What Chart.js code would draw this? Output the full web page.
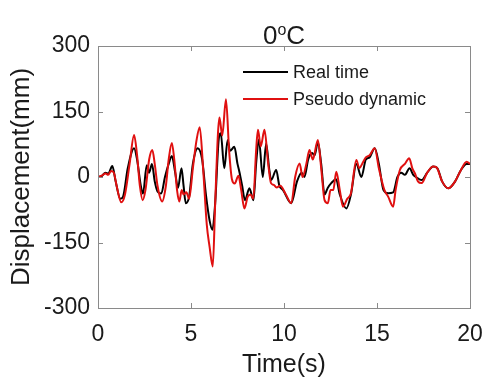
<!DOCTYPE html>
<html>
<head>
<meta charset="utf-8">
<script src="https://cdn.jsdelivr.net/npm/chart.js@4/dist/chart.umd.min.js"></script>
<style>
html,body{margin:0;padding:0;background:#fff;}
#wrap{width:483px;height:380px;}
</style>
</head>
<body>
<div id="wrap"><canvas id="c" width="483" height="380"></canvas></div>
<script>
const seriesLabels = ["Real time", "Pseudo dynamic"];
const xTickValues = [0, 5, 10, 15, 20];
const yTickValues = [-300, -150, 0, 150, 300];

const realTime = [0,0.2,0.4,0.55,0.77,0.95,1.2,1.35,1.6,1.94,2.1,2.3,2.42,2.62,2.75,2.9,3.05,3.2,3.4,3.6,3.8,3.97,4.15,4.3,4.49,4.6,4.72,4.9,5.1,5.36,5.6,5.8,6.0,6.15,6.3,6.5,6.6,6.79,6.97,7.1,7.33,7.5,7.6,7.75,7.9,8.14,8.36,8.5,8.65,8.86,9.04,9.2,9.31,9.58,9.75,9.95,10.39,10.7,10.95,11.1,11.3,11.5,11.65,11.82,12.0,12.18,12.35,12.54,12.8,13.0,13.35,13.6,13.89,14.16,14.4,14.6,14.88,15.1,15.35,15.6,15.87,16.1,16.3,16.5,16.75,16.95,17.1,17.4,17.7,18.02,18.25,18.5,18.83,19.2,19.5,19.82,20];
const realDisp = [0,2,10,8,25,-10,-50,-45,20,66,40,-20,-38,27,10,30,-10,-33,-38,0,30,48,10,-25,20,-20,-60,-45,30,66,40,-40,-100,-121,-60,90,100,20,85,60,69,30,12,-20,-53,-26,-53,30,86,0,77,20,-7,16,-20,-30,-60,-10,10,0,40,55,50,80,30,-40,-25,-14,-5,-40,-72,-40,30,0,40,45,66,30,-30,-37,-35,0,10,5,20,5,0,-7,10,24,20,-10,-26,-10,15,30,30];

const pseudoTime = [0,0.2,0.4,0.55,0.7,0.85,1.0,1.25,1.45,1.7,1.94,2.1,2.25,2.4,2.55,2.75,2.92,3.05,3.2,3.45,3.65,3.8,3.97,4.1,4.25,4.37,4.5,4.6,4.75,4.9,5.1,5.3,5.47,5.65,5.85,6.0,6.17,6.3,6.45,6.53,6.68,6.88,7.05,7.2,7.35,7.55,7.7,7.87,8.05,8.2,8.35,8.5,8.6,8.75,8.95,9.15,9.3,9.45,9.6,9.8,10.1,10.39,10.6,10.84,11.0,11.2,11.37,11.55,11.82,12.0,12.18,12.36,12.5,12.65,12.81,13.0,13.17,13.4,13.6,13.89,14.05,14.2,14.4,14.6,14.88,15.1,15.4,15.6,15.87,16.0,16.23,16.5,16.73,16.9,17.04,17.2,17.4,17.7,18.02,18.2,18.5,18.83,19.2,19.5,19.82,20];
const pseudoDisp = [0,3,8,5,14,10,-20,-58,-40,30,96,50,-20,-53,-30,40,62,30,-20,-56,-20,40,78,40,-30,-56,-30,-40,-35,-50,20,85,114,20,-110,-160,-205,-60,100,136,95,178,60,-5,-15,3,-30,-72,-45,-40,-50,60,108,70,108,30,-14,-18,-24,-20,-40,-60,0,31,0,30,62,40,85,20,-53,-60,-30,-30,12,-30,-68,-50,-37,39,20,30,45,50,66,20,-30,-45,-68,-30,16,30,43,20,8,-10,-14,10,24,22,-10,-26,-10,15,35,30];

const toPoints = (xs, ys) => xs.map((x, i) => ({x: x, y: ys[i]}));

const FONT = "'Liberation Sans', Arial, sans-serif";
const TEXT = '#1a1a1a';
const BOX = '#8a8a8a';

const boxPlugin = {
  id: 'boxTicks',
  afterDraw(chart) {
    const ctx = chart.ctx;
    const a = chart.chartArea;
    const xs = chart.scales.x, ys = chart.scales.y;
    ctx.save();
    ctx.strokeStyle = BOX;
    ctx.lineWidth = 1;
    ctx.strokeRect(Math.round(a.left) + 0.5, Math.round(a.top) + 0.5, Math.round(a.right - a.left), Math.round(a.bottom - a.top));
    const L = 5;
    ctx.beginPath();
    xTickValues.forEach(v => {
      const px = Math.round(xs.getPixelForValue(v)) + 0.5;
      ctx.moveTo(px, a.bottom); ctx.lineTo(px, a.bottom - L);
      ctx.moveTo(px, a.top); ctx.lineTo(px, a.top + L);
    });
    yTickValues.forEach(v => {
      const py = Math.round(ys.getPixelForValue(v)) + 0.5;
      ctx.moveTo(a.left, py); ctx.lineTo(a.left + L, py);
      ctx.moveTo(a.right, py); ctx.lineTo(a.right - L, py);
    });
    ctx.stroke();

    // legend inside plot
    const order = [0, 1];
    const lx0 = 243, lx1 = 288, tx = 293;
    const rowsY = [72, 99];
    ctx.font = '18px ' + FONT;
    ctx.textBaseline = 'middle';
    ctx.textAlign = 'left';
    order.forEach((di, i) => {
      const ds = chart.data.datasets[di];
      ctx.strokeStyle = ds.borderColor;
      ctx.lineWidth = 2;
      ctx.beginPath();
      ctx.moveTo(lx0, rowsY[i]); ctx.lineTo(lx1, rowsY[i]);
      ctx.stroke();
      ctx.fillStyle = TEXT;
      ctx.fillText(ds.label, tx, rowsY[i] + 1);
    });

    // title 0°C with superscript o
    const big = '26px ' + FONT, small = '16px ' + FONT;
    ctx.textBaseline = 'alphabetic';
    ctx.font = big; const w0 = ctx.measureText('0').width, wC = ctx.measureText('C').width;
    ctx.font = small; const wo = ctx.measureText('o').width;
    const total = w0 + wo + wC;
    let x = 284 - total / 2;
    const base = 44;
    ctx.fillStyle = TEXT;
    ctx.font = big; ctx.fillText('0', x, base); x += w0;
    ctx.font = small; ctx.fillText('o', x, base - 9); x += wo;
    ctx.font = big; ctx.fillText('C', x, base);
    ctx.restore();
  }
};

new Chart(document.getElementById('c'), {
  type: 'line',
  data: {
    datasets: [
      {label: seriesLabels[0], data: toPoints(realTime, realDisp), borderColor: '#000000', borderWidth: 2, pointRadius: 0, cubicInterpolationMode: 'monotone', fill: false, order: 1},
      {label: seriesLabels[1], data: toPoints(pseudoTime, pseudoDisp), borderColor: '#e01010', borderWidth: 2, pointRadius: 0, cubicInterpolationMode: 'monotone', fill: false, order: 0}
    ]
  },
  options: {
    responsive: false,
    animation: false,
    devicePixelRatio: 1,
    layout: {padding: {top: 46, right: 13, left: 0, bottom: 0}},
    plugins: {legend: {display: false}, tooltip: {enabled: false}, title: {display: false}},
    scales: {
      x: {
        type: 'linear', min: 0, max: 20,
        afterBuildTicks: s => { s.ticks = xTickValues.map(v => ({value: v})); },
        afterFit: s => { s.height = 72; s.paddingLeft = 0; s.paddingRight = 0; },
        grid: {display: false, drawTicks: false},
        border: {display: false},
        ticks: {font: {size: 23, family: FONT}, color: TEXT, padding: 13, maxRotation: 0},
        title: {display: true, text: 'Time(s)', font: {size: 25, family: FONT}, color: TEXT, padding: {top: 0, bottom: 0}}
      },
      y: {
        type: 'linear', min: -300, max: 300,
        afterBuildTicks: s => { s.ticks = yTickValues.map(v => ({value: v})); },
        afterFit: s => { s.width = 98; s.paddingTop = 0; s.paddingBottom = 0; },
        grid: {display: false, drawTicks: false},
        border: {display: false},
        ticks: {font: {size: 23, family: FONT}, color: TEXT, padding: 8},
        title: {display: true, text: 'Displacement(mm)', font: {size: 26, family: FONT}, color: TEXT, padding: {top: 6, bottom: 0}}
      }
    }
  },
  plugins: [boxPlugin]
});
</script>
</body>
</html>
